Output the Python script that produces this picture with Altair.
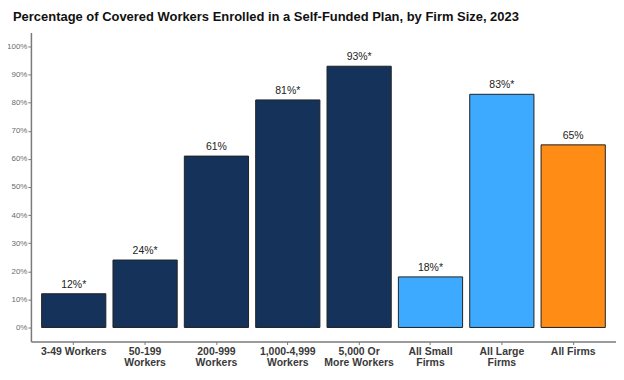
import altair as alt
import pandas as pd

categories = ["3-49 Workers", "50-199\nWorkers", "200-999\nWorkers", "1,000-4,999\nWorkers",
              "5,000 Or\nMore Workers", "All Small\nFirms", "All Large\nFirms", "All Firms"]
values = [12, 24, 61, 81, 93, 18, 83, 65]
labels = ["12%*", "24%*", "61%", "81%*", "93%*", "18%*", "83%*", "65%"]
groups = ["size", "size", "size", "size", "size", "small", "large", "all"]
y_ticks = [0, 10, 20, 30, 40, 50, 60, 70, 80, 90, 100]

df = pd.DataFrame({"cat": categories, "value": values, "label": labels, "group": groups})

color_scale = alt.Scale(domain=["size", "small", "large", "all"],
                        range=["#15325A", "#3DAAFF", "#3DAAFF", "#FF8C14"])

x = alt.X("cat:N", sort=categories,
          scale=alt.Scale(paddingInner=0.1, paddingOuter=0.15),
          axis=alt.Axis(title=None, labelAngle=0, labelExpr="split(datum.label, '\\n')",
                        labelFont="Liberation Sans", labelFontSize=10.5, labelFontWeight="bold",
                        labelColor="#3a3a3a", labelLineHeight=11, labelPadding=2,
                        domainColor="#7a7a7a", domainWidth=1.5, tickColor="#7a7a7a",
                        tickSize=3, grid=False))
y = alt.Y("value:Q", scale=alt.Scale(domain=[-5, 105], nice=False, zero=False),
          axis=alt.Axis(title=None, values=y_ticks, labelExpr="datum.value + '%'",
                        labelOverlap=False, labelFlush=False,
                        labelFont="Liberation Sans", labelFontSize=8, labelColor="#6a6a6a",
                        labelPadding=1, domainColor="#7a7a7a", domainWidth=1.5,
                        tickColor="#7a7a7a", tickSize=3, grid=False))

bars = alt.Chart(df).mark_bar(stroke="#222222", strokeWidth=1).encode(
    x=x, y=y, y2=alt.datum(0),
    color=alt.Color("group:N", scale=color_scale, legend=None),
)
text = alt.Chart(df).mark_text(dy=-9, font="Liberation Sans", fontSize=10.5, color="#222222").encode(
    x=x, y=y, text="label:N"
)

chart = (bars + text).properties(
    width=587, height=310, autosize="none", background="white",
    padding={"left": 23, "top": 24, "right": 0, "bottom": 28},
    title=alt.Title("Percentage of Covered Workers Enrolled in a Self-Funded Plan, by Firm Size, 2023",
                    anchor="start", frame="group", dx=-18, offset=9, font="Liberation Sans",
                    fontSize=13, fontWeight="bold", color="#111111"),
).configure_view(strokeWidth=0)

chart.save("out.html", embed_options={"renderer": "svg", "actions": False})
